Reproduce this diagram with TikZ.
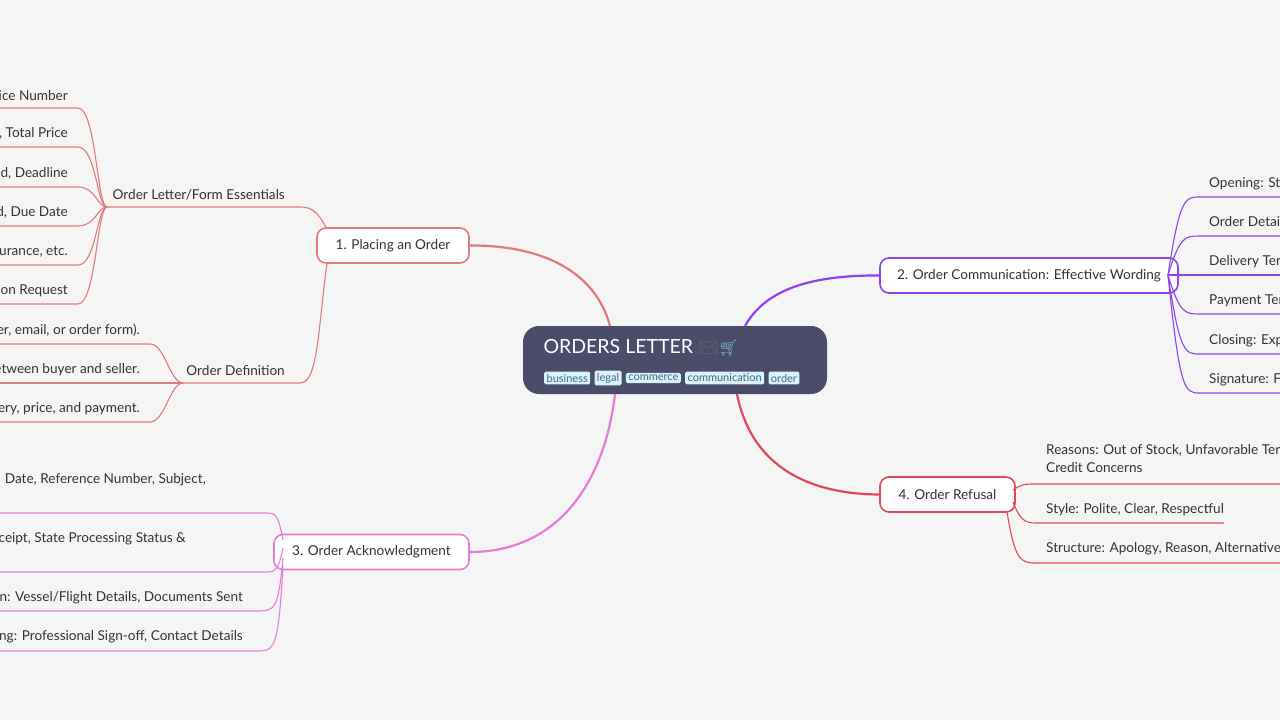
\documentclass[tikz,border=0pt]{standalone}
\usepackage{fontspec}
\setmainfont{Lato}
\newfontfamily\emo{Noto Emoji}
\begin{document}
\begin{tikzpicture}[x=1pt,y=-1pt,
  every node/.style={font=\fontsize{13.6}{18}\selectfont, text=black!80},
  topic/.style={draw=#1, line width=1.6pt, fill=white, rounded corners=9pt, minimum height=35pt, inner xsep=14pt},
  lfleaf/.style={anchor=south east, inner xsep=10pt, inner ysep=7pt},
  rtleaf/.style={anchor=south west, inner xsep=9pt, inner ysep=7pt},
  tag/.style={fill=cyan!15, text=cyan!40!black, rounded corners=1.5pt, inner xsep=2.4pt, inner ysep=2.3pt, font=\fontsize{11}{12}\selectfont},
  br/.style={draw=#1, line width=1.1pt},
  mainbr/.style={draw=#1, line width=2.2pt}]
\useasboundingbox (0,0) rectangle (1280,720);
\fill[black!4] (0,0) rectangle (1280,720);
\clip (0,0) rectangle (1280,720);
\definecolor{cA}{HTML}{E07B7B}
\definecolor{cB}{HTML}{8E44EC}
\definecolor{cC}{HTML}{E77CD6}
\definecolor{cD}{HTML}{E44759}
% central
\node[fill={rgb,255:red,74;green,76;blue,106}, rounded corners=16pt, minimum width=304pt, minimum height=68pt] (c) at (675,360) {};
\node[anchor=west, text=white, font=\fontsize{19.5}{22}\selectfont] (title) at (540,348) {ORDERS LETTER {\emo\color{black!60}\fontsize{16}{16}\selectfont ✉\color{cyan!40!gray}🛒}};
\node[tag, anchor=west] (t1) at (544,378) {business};
\node[tag, anchor=west] (t2) at (t1.east) [xshift=4pt] {legal};
\node[tag, anchor=west] (t3) at (t2.east) [xshift=4pt] {commerce};
\node[tag, anchor=west] (t4) at (t3.east) [xshift=4pt] {communication};
\node[tag, anchor=west] (t5) at (t4.east) [xshift=4pt] {order};
% topics
\node[topic=cA, minimum width=152pt] (p1) at (393,245.5) {1. Placing an Order};
\node[topic=cB, minimum width=298pt] (p2) at (1029,275.5) {2. Order Communication: Effective Wording};
\node[topic=cC, minimum width=195pt] (p3) at (371.5,552) {3. Order Acknowledgment};
\node[topic=cD, minimum width=135pt] (p4) at (947.5,494.5) {4. Order Refusal};
\draw[mainbr=cA] (610,326) .. controls (595,270) and (540,245) .. (p1.east);
\draw[mainbr=cB] (745,326) .. controls (765,290) and (810,275) .. (p2.west);
\draw[mainbr=cC] (615,394) .. controls (605,480) and (560,552) .. (p3.east);
\draw[mainbr=cD] (737,394) .. controls (750,460) and (800,494) .. (p4.west);
% branch 1 subtopics
\node[anchor=south east, inner xsep=15pt, inner ysep=7pt] (s1) at (300,207) {Order Letter/Form Essentials};
\node[anchor=south east, inner xsep=15pt, inner ysep=7pt] (s2) at (300,383) {Order Definition};
\draw[br=cA] (327,229) .. controls (318,212) and (312,207) .. (s1.south east) -- (107,207);
\draw[br=cA] (327,263) .. controls (318,330) and (318,383) .. (s2.south east) -- (183,383);
\coordinate (j1) at (107,207);
\coordinate (j2) at (183,383);
\foreach \y/\t [count=\i] in {108/Invoice Number,147/{Unit Price, Total Price},187/{Delivery Method, Deadline},226/{Payment Method, Due Date},265/{Packing, Insurance, etc.},304/{Quotation Request}}{
  \node[lfleaf] (a\i) at (78,\y) {\t};
  \draw[br=cA] (j1) .. controls (97,207) and (96,\y) .. (a\i.south east) -- (a\i.south west);
}
\foreach \y/\t [count=\i] in {344/{A written request (letter, email, or order form).},383/{A binding agreement between buyer and seller.},422/{Specifies goods, delivery, price, and payment.}}{
  \node[lfleaf] (b\i) at (150,\y) {\t};
  \draw[br=cA] (j2) .. controls (170,383) and (165,\y) .. (b\i.south east) -- (b\i.south west);
}
% branch 3 leaves
\foreach \y/\xe/\yy [count=\i] in {513/265/540,572/265/548,611/255/558,651/255/566}{
  \coordinate (e\i) at (\xe,\y);
  \draw[br=cC] (283,\yy) .. controls (278,\y) and (275,\y) .. (e\i) -- (0,\y);
}
\node[anchor=base east, inner sep=0pt] (c1) at (206,483) {Header: Date, Reference Number, Subject,};
\node[anchor=base east, inner sep=0pt] (c2) at (186,542) {Body: Confirm Receipt, State Processing Status \&};
\node[anchor=base east, inner sep=0pt] (c3) at (243,601) {Shipment Information: Vessel/Flight Details, Documents Sent};
\node[anchor=base east, inner sep=0pt] (c4) at (243,640) {Closing: Professional Sign-off, Contact Details};
% branch 2 leaves
\foreach \y/\t [count=\i] in {197/{Opening: State Purpose},236/{Order Details: Items, Quantities},275/{Delivery Terms: Date, Method},314/{Payment Terms: Method, Schedule},354/{Closing: Express Appreciation},393/{Signature: Full Name, Title}}{
  \node[rtleaf] (r\i) at (1200,\y) {\t};
  \draw[br=cB] (1168,275) .. controls (1180,\y) and (1185,\y) .. (r\i.south west) -- (r\i.south east);
}
% branch 4 leaves
\node[anchor=base west, inner sep=0pt, align=left] (f1) at (1046,472) {Reasons: Out of Stock, Unfavorable Terms,\\Credit Concerns};
\node[anchor=base west, inner sep=0pt] (f2) at (1046,513) {Style: Polite, Clear, Respectful};
\node[anchor=base west, inner sep=0pt] (f3) at (1046,552) {Structure: Apology, Reason, Alternatives};
\draw[br=cD] (1013,490) .. controls (1022,484) and (1025,484) .. (1036,484) -- (1280,484);
\draw[br=cD] (1013,502) .. controls (1020,520) and (1025,523) .. (1036,523) -- (1224,523);
\draw[br=cD] (1007,512) .. controls (1015,560) and (1020,563) .. (1036,563) -- (1280,563);
\end{tikzpicture}
\end{document}
